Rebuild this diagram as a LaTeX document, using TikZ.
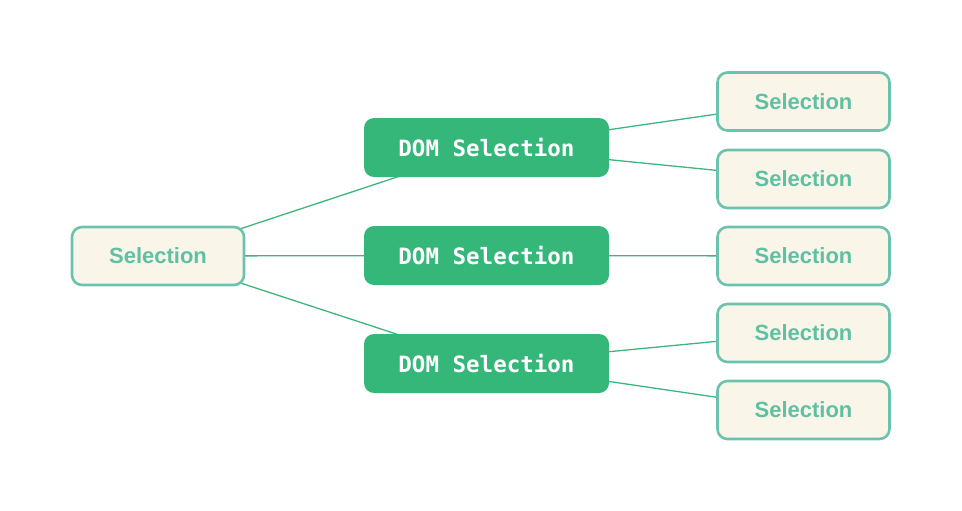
\documentclass[tikz,border=0pt]{standalone}
\usepackage{fontspec}
\usetikzlibrary{backgrounds}
\setmainfont{Liberation Sans}
\newfontfamily\codefont{DejaVu Sans Mono}
\definecolor{domgreen}{HTML}{35B77A}
\definecolor{selfill}{HTML}{F9F6E9}
\definecolor{selborder}{HTML}{6CC3AD}
\definecolor{seltext}{HTML}{5FC0A3}
\definecolor{linkgreen}{HTML}{3DB57E}
\begin{document}
\begin{tikzpicture}[x=1pt,y=-1pt,
  selbox/.style={draw=selborder, line width=2.6pt, fill=selfill, rounded corners=10pt,
    minimum width=172pt, minimum height=58pt, inner sep=0pt,
    text=seltext, font=\fontsize{22}{25}\selectfont\bfseries},
  dombox/.style={fill=domgreen, rounded corners=10pt,
    minimum width=245pt, minimum height=59pt, inner sep=0pt,
    text=white, font=\codefont\fontsize{22.5}{25}\selectfont\bfseries},
  link/.style={draw=linkgreen, line width=1.3pt}]
\useasboundingbox (0,0) rectangle (962,511);
\node[selbox] (root) at (158,256) {Selection};
\node[dombox] (d1) at (486.5,147.5) {DOM Selection};
\node[dombox] (d2) at (486.5,255.5) {DOM Selection};
\node[dombox] (d3) at (486.5,363.5) {DOM Selection};
\node[selbox] (s1) at (803.5,101.5) {Selection};
\node[selbox] (s2) at (803.5,179) {Selection};
\node[selbox] (s3) at (803.5,256) {Selection};
\node[selbox] (s4) at (803.5,333) {Selection};
\node[selbox] (s5) at (803.5,410) {Selection};
\begin{pgfonlayer}{background}
\draw[link] (root.center) -- (d1.center);
\draw[link] (root.center) -- (d2.center);
\draw[link] (root.center) -- (d3.center);
\draw[link] (d1.center) -- (s1.center);
\draw[link] (d1.center) -- (s2.center);
\draw[link] (d2.center) -- (s3.center);
\draw[link] (d3.center) -- (s4.center);
\draw[link] (d3.center) -- (s5.center);
\end{pgfonlayer}
\end{tikzpicture}
\end{document}
